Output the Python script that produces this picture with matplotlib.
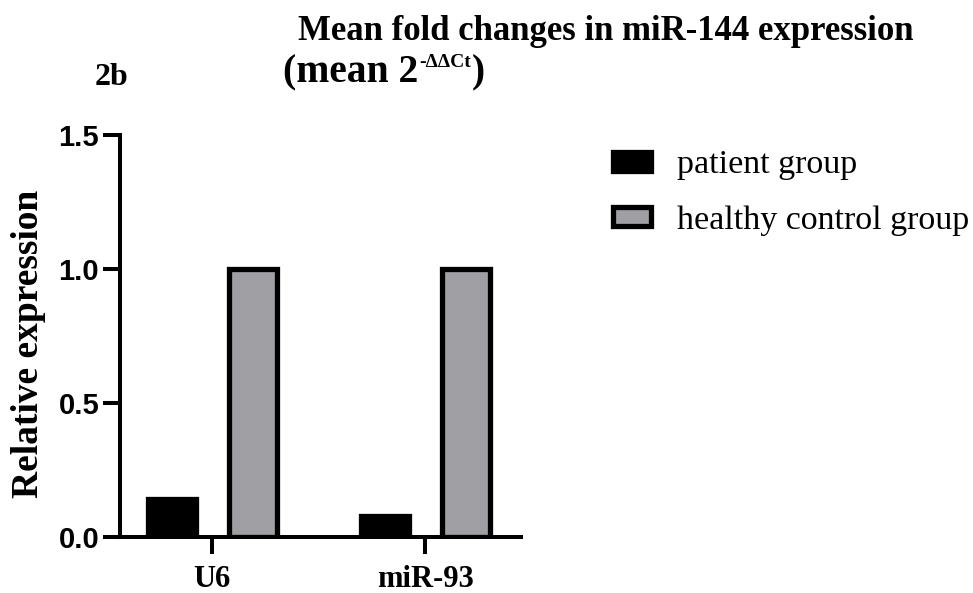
import matplotlib
matplotlib.use("Agg")
import matplotlib.pyplot as plt
import numpy as np

categories = ["U6", "miR-93"]
patient = [0.142, 0.079]
healthy = [1.0, 1.0]
series_labels = ["patient group", "healthy control group"]
yticks = [0.0, 0.5, 1.0, 1.5]
ytick_labels = ["0.0", "0.5", "1.0", "1.5"]

serif = ['Liberation Serif', 'DejaVu Serif']
sans = ['Liberation Sans', 'DejaVu Sans']

W, H = 973, 593
fig = plt.figure(figsize=(W / 100, H / 100), dpi=100)
ax = fig.add_axes([120 / W, 1 - 537 / H, 401 / W, 402 / H])

x = np.arange(len(categories))
w = 0.225
off = 0.19
lw = 3.8
b1 = ax.bar(x - off, patient, w, color='black', edgecolor='black', linewidth=lw, zorder=2)
b2 = ax.bar(x + off, healthy, w, color='#a09fa4', edgecolor='black', linewidth=lw, zorder=2)

ax.set_xlim(-0.432, 1.45)
ax.set_ylim(0, 1.5)
ax.set_yticks(yticks)
ax.set_yticklabels(ytick_labels, fontsize=21, fontweight='bold', family=sans)
ax.set_xticks(x)
ax.set_xticklabels(categories, fontsize=22, fontweight='bold', family=serif)
for s in ['top', 'right']:
    ax.spines[s].set_visible(False)
for s in ['left', 'bottom']:
    ax.spines[s].set_linewidth(2.9)
    ax.spines[s].set_zorder(3)
ax.tick_params(axis='both', length=12, width=2.9, color='black')
ax.tick_params(axis='y', pad=3)
ax.tick_params(axis='x', pad=8)

ax.set_ylabel("Relative expression", fontsize=27, fontweight='bold', family=serif)
ax.yaxis.set_label_coords(-(120 - 46) / 401, (537 - 344) / 402)

fig.text(298 / W, 1 - 40 / H, "Mean fold changes in miR-144 expression", fontsize=25,
         fontweight='bold', family=serif, ha='left', va='baseline')
fig.text(95 / W, 1 - 85 / H, "2b", fontsize=23, fontweight='bold', family=serif,
         ha='left', va='baseline')

# second title line with superscript built from separate text pieces
fig.canvas.draw()
r = fig.canvas.get_renderer()
t1 = fig.text(283 / W, 1 - 82 / H, "(mean 2", fontsize=28.5, fontweight='bold',
              family=serif, ha='left', va='baseline')
bb1 = t1.get_window_extent(r)
t2 = fig.text((bb1.x1 + 1) / W, 1 - 67 / H, "-\u0394\u0394Ct", fontsize=14,
              fontweight='bold', family=serif, ha='left', va='baseline')
bb2 = t2.get_window_extent(r)
fig.text((bb2.x1 + 0.5) / W, 1 - 82 / H, ")", fontsize=28.5, fontweight='bold',
         family=serif, ha='left', va='baseline')

leg = fig.legend([b1, b2], series_labels, loc='upper left',
                 bbox_to_anchor=(612.5 / W, 1 - 150 / H), frameon=False,
                 prop={'family': serif, 'size': 24.5}, handlelength=1.12, handleheight=0.47,
                 handletextpad=0.78, labelspacing=0.72, borderaxespad=0, borderpad=0)

fig.savefig("out.png", dpi=100)
